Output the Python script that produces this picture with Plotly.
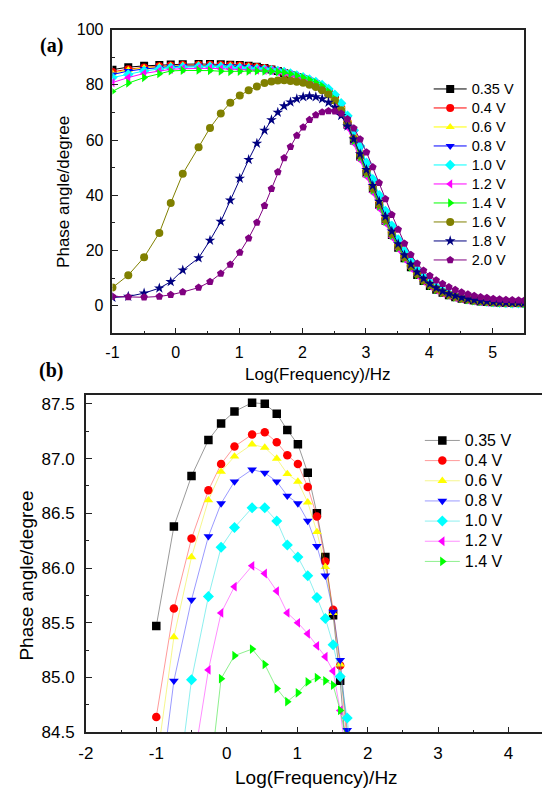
import plotly.graph_objects as go

# Log(Frequency) positions of the measured points
log_freq = [-1.0, -0.75, -0.5, -0.26, -0.08, 0.11, 0.36, 0.54, 0.71, 0.86, 1.01, 1.15, 1.28, 1.40, 1.51,
            1.61, 1.71, 1.81, 1.91, 2.01, 2.11, 2.21, 2.31, 2.41, 2.51, 2.61, 2.71, 2.81, 2.91, 3.01,
            3.11, 3.21, 3.31, 3.41, 3.51, 3.61, 3.71, 3.81, 3.91, 4.01, 4.11, 4.21, 4.31, 4.41, 4.51,
            4.61, 4.71, 4.81, 4.91, 5.01, 5.11, 5.21, 5.31, 5.41, 5.50]

labels = ["0.35 V", "0.4 V", "0.6 V", "0.8 V", "1.0 V", "1.2 V", "1.4 V", "1.6 V", "1.8 V", "2.0 V"]

v035 = [85.47, 86.38, 86.84, 87.17, 87.32, 87.43, 87.51, 87.50, 87.41, 87.26, 87.13, 86.87, 86.50, 86.10, 85.57, 84.97,
        84.2, 83.5, 82.8, 82.0, 81.1, 80.1, 78.9, 77.2, 74.6, 70.8, 65.5, 59.8, 54.0, 48.0, 42.3, 36.5, 30.8, 25.6,
        21.0, 17.2, 14.0, 11.2, 9.0, 7.2, 5.8, 4.7, 3.8, 3.1, 2.6, 2.2, 1.9, 1.6, 1.4, 1.3, 1.2, 1.1, 1.0, 1.0, 0.9]
v04 = [84.64, 85.63, 86.27, 86.71, 86.95, 87.11, 87.22, 87.24, 87.15, 87.03, 86.95, 86.74, 86.47, 86.06, 85.62, 85.11,
       84.4, 83.7, 83.0, 82.2, 81.3, 80.3, 79.1, 77.5, 75.1, 71.6, 66.6, 61.0, 55.2, 49.2, 43.4, 37.6, 31.9, 26.6,
       21.9, 18.0, 14.7, 11.8, 9.5, 7.6, 6.1, 4.9, 4.0, 3.3, 2.7, 2.3, 1.9, 1.7, 1.5, 1.3, 1.2, 1.1, 1.0, 1.0, 0.9]
v06 = [84.2, 85.37, 86.10, 86.62, 86.88, 87.02, 87.13, 87.10, 87.00, 86.86, 86.79, 86.60, 86.33, 86.01, 85.59, 85.12,
       84.5, 83.8, 83.1, 82.3, 81.4, 80.4, 79.2, 77.6, 75.4, 72.1, 67.3, 61.8, 56.0, 50.0, 44.1, 38.3, 32.6, 27.3,
       22.5, 18.5, 15.1, 12.1, 9.7, 7.8, 6.2, 5.0, 4.1, 3.3, 2.7, 2.3, 1.9, 1.6, 1.4, 1.2, 1.1, 1.0, 0.9, 0.9, 0.8]
v08 = [83.7, 84.97, 85.71, 86.29, 86.59, 86.79, 86.90, 86.87, 86.79, 86.66, 86.59, 86.43, 86.20, 85.93, 85.60, 85.16, 84.52,
       83.9, 83.2, 82.5, 81.6, 80.7, 79.5, 78.0, 75.8, 72.6, 68.0, 62.7, 57.0, 51.0, 45.0, 39.2, 33.5, 28.2,
       23.3, 19.2, 15.7, 12.6, 10.2, 8.2, 6.6, 5.3, 4.3, 3.5, 2.9, 2.4, 2.0, 1.7, 1.5, 1.3, 1.2, 1.1, 1.0, 1.0, 0.9]
v10 = [82.6, 83.7, 84.98, 85.74, 86.19, 86.37, 86.55, 86.55, 86.43, 86.21, 86.10, 85.93, 85.73, 85.54, 85.30, 85.01, 84.63,
       84.1, 83.4, 82.7, 81.9, 81.0, 79.9, 78.5, 76.4, 73.3, 68.8, 63.5, 57.8, 51.8, 45.8, 40.0, 34.3, 29.0,
       24.0, 19.8, 16.2, 13.0, 10.5, 8.4, 6.8, 5.5, 4.4, 3.6, 2.9, 2.4, 2.0, 1.7, 1.5, 1.3, 1.1, 1.0, 0.9, 0.9, 0.8]
v12 = [80.8, 82.6, 84.1, 85.07, 85.59, 85.83, 86.02, 85.95, 85.79, 85.59, 85.50, 85.40, 85.29, 85.19, 85.06, 84.70,
       84.2, 83.6, 82.9, 82.2, 81.3, 80.3, 78.9, 76.9, 74.0, 69.7, 64.5, 58.8, 52.8, 46.8, 41.0, 35.2, 29.8, 24.8,
       20.5, 16.8, 13.6, 11.0, 8.8, 7.1, 5.7, 4.6, 3.7, 3.0, 2.5, 2.1, 1.8, 1.5, 1.3, 1.2, 1.1, 1.0, 0.9, 0.9, 0.8]
v14 = [77.6, 80.6, 82.6, 84.0, 84.99, 85.20, 85.26, 85.12, 84.90, 84.78, 84.86, 84.96, 85.00, 84.97, 84.93, 84.70,
       84.4, 83.9, 83.3, 82.6, 81.8, 80.8, 79.5, 77.6, 74.8, 70.6, 65.5, 59.8, 53.8, 47.8, 41.9, 36.1, 30.6, 25.5,
       21.1, 17.3, 14.0, 11.3, 9.1, 7.3, 5.9, 4.8, 3.9, 3.2, 2.6, 2.2, 1.8, 1.6, 1.4, 1.2, 1.1, 1.0, 0.9, 0.9, 0.8]
v16 = [6.6, 11.1, 17.6, 26.4, 37.2, 47.8, 57.4, 64.4, 69.6, 73.5, 76.1, 78.0, 79.4, 80.6, 81.2, 81.5,
       81.6, 81.4, 81.1, 80.7, 80.0, 79.2, 78.0, 76.5, 74.3, 70.8, 66.0, 60.5, 54.5, 48.5, 42.5, 36.7, 31.2, 26.0,
       21.5, 17.6, 14.3, 11.5, 9.3, 7.5, 6.1, 4.9, 4.0, 3.3, 2.7, 2.3, 1.9, 1.7, 1.5, 1.3, 1.2, 1.1, 1.0, 1.0, 0.9]
v18 = [3.0, 3.4, 4.6, 6.4, 8.7, 12.9, 17.3, 23.7, 30.5, 38.2, 46.1, 52.9, 58.8, 63.5, 67.3, 70.0,
       72.3, 73.7, 74.9, 75.6, 75.9, 75.6, 74.9, 73.6, 71.8, 68.8, 65.0, 60.3, 55.0, 49.3, 43.5, 37.8, 32.3, 27.0,
       22.4, 18.4, 15.0, 12.2, 9.9, 8.0, 6.5, 5.3, 4.3, 3.6, 3.0, 2.5, 2.1, 1.8, 1.6, 1.4, 1.3, 1.2, 1.1, 1.1, 1.0]
v20 = [3.4, 3.2, 3.1, 3.4, 4.0, 5.0, 6.6, 8.7, 11.7, 15.0, 19.3, 24.5, 30.2, 36.2, 42.4, 48.4,
       53.5, 57.6, 61.6, 64.6, 67.3, 69.1, 70.1, 70.5, 70.4, 69.6, 67.6, 64.3, 60.3, 55.6, 50.2, 44.5, 38.7, 33.0,
       27.6, 22.6, 18.5, 15.3, 12.8, 10.9, 9.3, 8.0, 6.8, 5.8, 4.9, 4.2, 3.7, 3.2, 2.9, 2.6, 2.4, 2.2, 2.1, 2.0, 1.9]

# tick labels (plain hyphen for negatives, as in the original)
xa_ticks = [-1, 0, 1, 2, 3, 4, 5]
xa_text = ["-1", "0", "1", "2", "3", "4", "5"]
xb_ticks = [-2, -1, 0, 1, 2, 3, 4]
xb_text = ["-2", "-1", "0", "1", "2", "3", "4"]

series = [v035, v04, v06, v08, v10, v12, v14, v16, v18, v20]
colors = ["#000000", "#FF0000", "#FFFF00", "#0000FF", "#00FFFF", "#FF00FF", "#00FF00",
          "#808000", "#000080", "#800080"]
faded = ["rgba(0,0,0,0.4)", "rgba(255,0,0,0.4)", "rgba(235,235,0,0.45)", "rgba(0,0,255,0.4)",
         "rgba(0,220,220,0.45)", "rgba(255,0,255,0.45)", "rgba(0,220,0,0.45)"]
symbols = ["square", "circle", "triangle-up", "triangle-down", "diamond", "triangle-left",
           "triangle-right", "circle", "star", "pentagon"]

W, H = 542, 798
FONT = "Liberation Sans, Arial, sans-serif"

fig = go.Figure()

for i, ys in enumerate(series):
    fig.add_trace(go.Scatter(
        x=log_freq, y=ys, name='<span style="font-size:14.5px">' + labels[i] + "</span>",
        mode="lines+markers",
        line=dict(color=colors[i], width=1),
        marker=dict(symbol=symbols[i], color=colors[i], size=8),
        xaxis="x", yaxis="y", legend="legend", cliponaxis=True))

for i in range(7):
    fig.add_trace(go.Scatter(
        x=log_freq, y=series[i], name='<span style="font-size:16px">' + labels[i] + "</span>",
        mode="lines+markers",
        line=dict(color=faded[i], width=1),
        marker=dict(symbol=symbols[i], color=colors[i], size=8.5),
        xaxis="x2", yaxis="y2", legend="legend2", cliponaxis=True))

axis_common = dict(showline=True, linecolor="#222", linewidth=1.5, ticks="inside",
                   tickcolor="#222", tickwidth=1.2, showgrid=False, zeroline=False,
                   color="#000")

fig.update_layout(
    width=W, height=H, margin=dict(l=0, r=0, t=0, b=0),
    paper_bgcolor="white", plot_bgcolor="white",
    font=dict(family=FONT, color="#000"),
    xaxis=dict(domain=[106 / W, 524 / W], range=[-1, 5.5], tickmode="array",
               tickvals=xa_ticks, ticktext=xa_text, ticklen=6,
               mirror=True, anchor="y", tickfont=dict(size=16), ticklabelstandoff=4,
               minor=dict(dtick=0.5, tick0=0, ticks="inside", ticklen=3, tickcolor="#222"),
               **axis_common),
    yaxis=dict(domain=[1 - 333 / H, 1 - 22 / H], range=[-10, 100], dtick=20, tick0=0, ticklen=6,
               mirror=True, anchor="x", tickfont=dict(size=16), ticklabelstandoff=4,
               minor=dict(dtick=10, ticks="inside", ticklen=3, tickcolor="#222"),
               **axis_common),
    xaxis2=dict(domain=[79 / W, 1.0], range=[-2, 4.475], tickmode="array",
                tickvals=xb_ticks, ticktext=xb_text, ticklen=6,
                mirror=True, anchor="y2", tickfont=dict(size=17), ticklabelstandoff=5,
                minor=dict(dtick=0.5, tick0=0, ticks="inside", ticklen=3, tickcolor="#222"),
                **axis_common),
    yaxis2=dict(domain=[1 - 741 / H, 1 - 396 / H], range=[84.5, 87.58], dtick=0.5, tick0=84.5,
                tickformat=".1f", ticklen=6, mirror=False, anchor="x2", tickfont=dict(size=17),
                ticklabelstandoff=6,
                minor=dict(dtick=0.25, ticks="inside", ticklen=3, tickcolor="#222"),
                **axis_common),
    legend=dict(x=427 / W, y=1 - 68 / H, xanchor="left", yanchor="top", bgcolor="rgba(0,0,0,0)",
                font=dict(size=11.7, family=FONT), tracegroupgap=0, itemwidth=33),
    legend2=dict(x=418 / W, y=1 - 427 / H, xanchor="left", yanchor="top", bgcolor="rgba(0,0,0,0)",
                 font=dict(size=13.2, family=FONT), tracegroupgap=0, itemwidth=35),
    showlegend=True,
)

annotations = [
    dict(text="<b>(a)</b>", x=44 / W, y=1 - 38 / H, font=dict(family="Liberation Serif, Times New Roman, serif", size=20)),
    dict(text="<b>(b)</b>", x=44 / W, y=1 - 371 / H, font=dict(family="Liberation Serif, Times New Roman, serif", size=20)),
    dict(text="Log(Frequency)/Hz", x=315 / W, y=1 - 375 / H, font=dict(size=17)),
    dict(text="Phase angle/degree", x=57 / W, y=1 - 188 / H, textangle=-90, font=dict(size=17)),
    dict(text="Log(Frequency)/Hz", x=313 / W, y=1 - 787 / H, font=dict(size=19)),
    dict(text="Phase angle/degree", x=19 / W, y=1 - 581 / H, textangle=-90, font=dict(size=19)),
]
for a in annotations:
    a.update(xref="paper", yref="paper", showarrow=False, xanchor="center", yanchor="middle")
    a["font"].setdefault("family", FONT)
    a["font"]["color"] = "#000"
fig.update_layout(annotations=annotations)

fig.write_html("out.html")
